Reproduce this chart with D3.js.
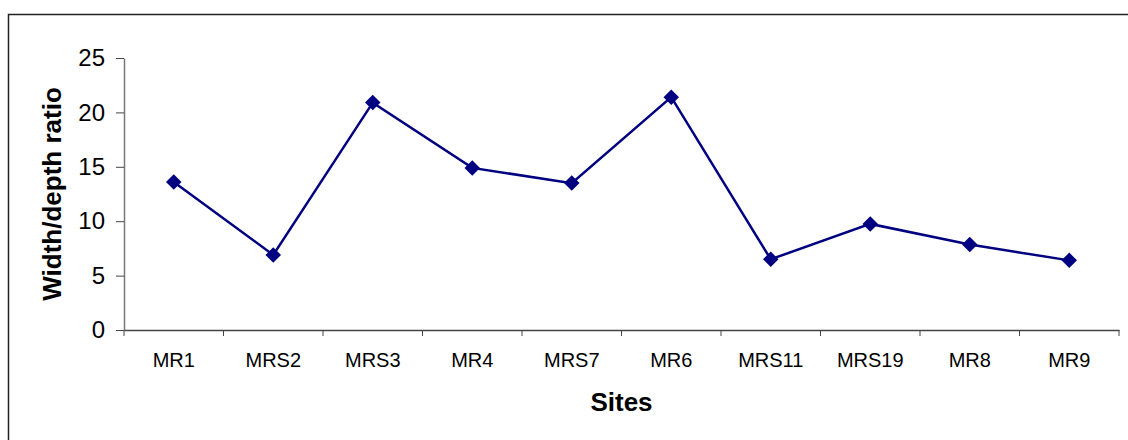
<!DOCTYPE html>
<html>
<head>
<meta charset="utf-8">
<script src="https://cdn.jsdelivr.net/npm/d3@7"></script>
<style>
  html, body { margin: 0; padding: 0; background: #fff; }
  svg { display: block; font-family: "Liberation Sans", Arial, sans-serif; }
</style>
</head>
<body>
<svg id="chart" width="1128" height="440"></svg>
<script>
// Sites along the river and their channel width/depth ratios
const sites = ["MR1", "MRS2", "MRS3", "MR4", "MRS7", "MR6", "MRS11", "MRS19", "MR8", "MR9"];
const ratios = [13.6, 6.9, 20.9, 14.9, 13.5, 21.4, 6.5, 9.75, 7.85, 6.4];
const yTicks = [0, 5, 10, 15, 20, 25];

const svg = d3.select("#chart");
const plot = { left: 124, right: 1119, top: 58, bottom: 330 };
const fontFamily = "Liberation Sans, Arial, sans-serif";

// outer chart frame
svg.append("rect")
  .attr("x", 8.5).attr("y", 14.5)
  .attr("width", 1200).attr("height", 500)
  .attr("fill", "none").attr("stroke", "#222").attr("stroke-width", 1.5);

const x = d3.scaleBand().domain(sites).range([plot.left, plot.right]).padding(0);
const y = d3.scaleLinear().domain([0, 25]).range([plot.bottom, plot.top]);

// y axis
const yAxis = svg.append("g")
  .attr("transform", `translate(${plot.left},0)`)
  .call(d3.axisLeft(y).tickValues(yTicks).tickSize(8).tickSizeOuter(0).tickPadding(11));
yAxis.select(".domain").attr("stroke", "#777").attr("stroke-width", 1.5);
yAxis.selectAll(".tick line").attr("stroke", "#444");
yAxis.selectAll(".tick text").attr("font-size", 24).attr("fill", "#000")
  .attr("font-family", fontFamily);

// x axis: ticks sit on the category boundaries
const xAxis = svg.append("g")
  .attr("transform", `translate(0,${plot.bottom})`)
  .call(d3.axisBottom(x).tickSize(0).tickPadding(23));
xAxis.select(".domain").attr("stroke", "#444").attr("stroke-width", 1.5);
xAxis.selectAll(".tick text").attr("font-size", 20).attr("fill", "#000")
  .attr("font-family", fontFamily);

const bounds = sites.map(s => x(s)).concat([x(sites[sites.length - 1]) + x.bandwidth()]);
svg.append("g").selectAll("line").data(bounds).join("line")
  .attr("x1", d => d).attr("x2", d => d)
  .attr("y1", plot.bottom).attr("y2", plot.bottom + 6)
  .attr("stroke", "#444").attr("stroke-width", 1);

// axis titles
svg.append("text")
  .attr("x", (plot.left + plot.right) / 2).attr("y", 411)
  .attr("text-anchor", "middle").attr("font-size", 26).attr("font-weight", "bold")
  .text("Sites");
svg.append("text")
  .attr("transform", `translate(61,${(plot.top + plot.bottom) / 2}) rotate(-90)`)
  .attr("text-anchor", "middle").attr("font-size", 26).attr("font-weight", "bold")
  .text("Width/depth ratio");

// series line and diamond markers
const cx = s => x(s) + x.bandwidth() / 2;
const pts = sites.map((s, i) => [cx(s), y(ratios[i])]);
svg.append("path")
  .attr("d", d3.line()(pts))
  .attr("fill", "none").attr("stroke", "#000080").attr("stroke-width", 2.5);
svg.append("g").selectAll("path").data(pts).join("path")
  .attr("d", d3.symbol(d3.symbolSquare, 120)())
  .attr("transform", d => `translate(${d[0]},${d[1]}) rotate(45)`)
  .attr("fill", "#000080");
</script>
</body>
</html>
